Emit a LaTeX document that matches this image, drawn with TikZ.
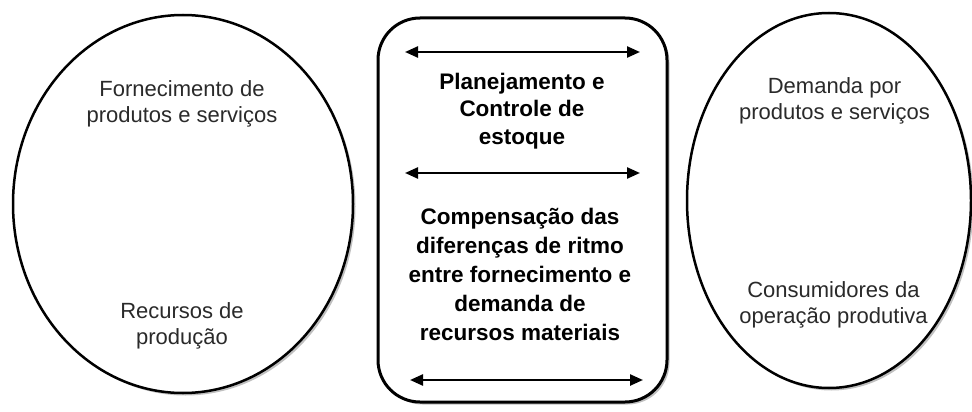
\documentclass[tikz,border=0pt]{standalone}
\usepackage{fontspec}
\setmainfont{Liberation Sans}
\usetikzlibrary{shapes.geometric,arrows.meta,shadows}
\definecolor{txt}{HTML}{2A2A2A}
\begin{document}
\begin{tikzpicture}[x=1pt,y=-1pt,
  outline/.style={line width=2.5pt, draw=black, fill=white, inner sep=0pt,
    drop shadow={shadow xshift=2.5pt, shadow yshift=-2.5pt, opacity=0.35, fill=black!70}},
  oval/.style={outline, ellipse},
  panel/.style={outline, rectangle, rounded corners=42pt, line width=3pt},
  plain/.style={align=center, text=txt, font=\fontsize{22}{26}\selectfont, inner sep=0pt},
  boldtxt/.style={align=center, text=black, font=\bfseries\fontsize{22.5}{27.5}\selectfont, inner sep=0pt},
  dbl/.style={{Triangle[length=13pt,width=11pt]}-{Triangle[length=13pt,width=11pt]}, line width=2.4pt}
]
\useasboundingbox[fill=white] (0,0) rectangle (972,412);
% shapes
\node[oval, minimum width=340pt, minimum height=378pt] (L) at (183,204) {};
\node[oval, minimum width=284pt, minimum height=375pt] (R) at (829,200.5) {};
\node[panel, minimum width=289pt, minimum height=384pt] (B) at (522.5,210) {};
% texts
\node[plain] (L1) at (182,104) {Fornecimento de\\produtos e serviços};
\node[plain] (L2) at (182,326) {Recursos de\\produção};
\node[plain] (R1) at (834.5,101) {Demanda por\\produtos e serviços};
\node[plain] (R2) at (833.5,305) {Consumidores da\\operação produtiva};
\node[boldtxt] (B1) at (522,111) {Planejamento e\\Controle de\\estoque};
\node[boldtxt, font=\bfseries\fontsize{22.5}{29}\selectfont] (B2) at (520,274) {Compensação das\\diferenças de ritmo\\entre fornecimento e\\demanda de\\recursos materiais};
% arrows
\coordinate (a1) at (405,52);  \coordinate (b1) at (640,52);
\coordinate (a2) at (405,173); \coordinate (b2) at (640,173);
\coordinate (a3) at (410,380); \coordinate (b3) at (643,380);
\draw[dbl] (a1) -- (b1);
\draw[dbl] (a2) -- (b2);
\draw[dbl] (a3) -- (b3);
\end{tikzpicture}
\end{document}
